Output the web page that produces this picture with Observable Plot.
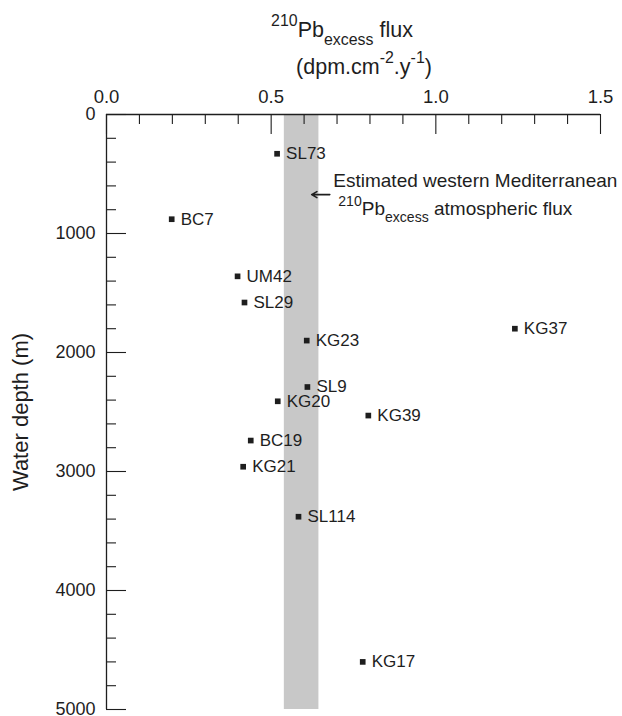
<!DOCTYPE html>
<html><head><meta charset="utf-8">
<script src="https://cdn.jsdelivr.net/npm/d3@7"></script>
<script src="https://cdn.jsdelivr.net/npm/@observablehq/plot@0.6"></script>
<style>
body{margin:0;background:#fff;}
#chart svg{display:block;font-family:"Liberation Sans",Arial,Helvetica,sans-serif;}
</style>
</head><body><div id="chart"></div>
<script>
// ---- data ----
const stations = ["SL73","BC7","UM42","SL29","KG23","KG37","SL9","KG20","KG39","BC19","KG21","SL114","KG17"];
const flux     = [0.518, 0.198, 0.398, 0.419, 0.608, 1.240, 0.610, 0.520, 0.795, 0.438, 0.415, 0.583, 0.778];
const depth    = [330, 880, 1360, 1580, 1900, 1800, 2290, 2410, 2530, 2740, 2960, 3380, 4600];

const xMajorTicks = [0, 0.5, 1.0, 1.5];
const xMinorTicks = [0.1,0.2,0.3,0.4,0.6,0.7,0.8,0.9,1.1,1.2,1.3,1.4];
const yMajorTicks = [0, 1000, 2000, 3000, 4000, 5000];
const yMinorTicks = [200,400,600,800,1200,1400,1600,1800,2200,2400,2600,2800,3200,3400,3600,3800,4200,4400,4600,4800];

const atmosphericFluxRange = [0.54, 0.645];   // shaded band (dpm.cm-2.y-1)
const annotationArrowFlux = [0.678, 0.623];   // arrow from -> to
const annotationDepth = 673;
const annotationLine1 = "Estimated western Mediterranean";
const annotationLine2 = [["210", "sup"], ["Pb"], ["excess", "sub"], [" atmospheric flux"]];

// ---- layout ----
const W = 622, H = 716, mt = 114, mb = 7, ml = 106, mr = 22;
const plotH = H - mt - mb, plotW = W - ml - mr;
const ink = "#1e1e1e";
const FONT = '"Liberation Sans", Arial, Helvetica, sans-serif';

const points = stations.map((s, i) => ({station: s, flux: flux[i], depth: depth[i]}));
const band = [{x1: atmosphericFluxRange[0], x2: atmosphericFluxRange[1], y1: yMajorTicks[0], y2: yMajorTicks[yMajorTicks.length - 1]}];
const arrow = [{x1: annotationArrowFlux[0], x2: annotationArrowFlux[1], y: annotationDepth}];

const plot = Plot.plot({
  width: W, height: H,
  marginTop: mt, marginBottom: mb, marginLeft: ml, marginRight: mr,
  style: {fontFamily: FONT, background: "#fff", color: ink, overflow: "visible"},
  x: {domain: [0, 1.5], axis: null},
  y: {domain: [0, 5000], reverse: true, axis: null},
  marks: [
    Plot.rect(band, {x1: "x1", x2: "x2", y1: "y1", y2: "y2", fill: "#c8c8c8"}),
    Plot.tickX(xMinorTicks, {x: d => d, insetBottom: plotH - 10, stroke: ink, strokeWidth: 1.1}),
    Plot.tickX(xMajorTicks, {x: d => d, insetBottom: plotH - 20, stroke: ink, strokeWidth: 1.1}),
    Plot.tickY(yMinorTicks, {y: d => d, insetRight: plotW - 10, stroke: ink, strokeWidth: 1.1}),
    Plot.tickY(yMajorTicks, {y: d => d, insetRight: plotW - 20, stroke: ink, strokeWidth: 1.1}),
    Plot.ruleY([0], {stroke: ink, strokeWidth: 1.3}),
    Plot.ruleX([0], {stroke: ink, strokeWidth: 1.3}),
    Plot.axisX(xMajorTicks, {anchor: "top", tickSize: 0, tickPadding: 12, tickFormat: d3.format(".1f"), fontSize: 18.5, label: null, fill: ink}),
    Plot.axisY(yMajorTicks, {anchor: "left", tickSize: 0, tickPadding: 11, tickFormat: d3.format("d"), fontSize: 18, label: null, fill: ink}),
    Plot.dot(points, {x: "flux", y: "depth", symbol: "square", r: 3.2, fill: ink, stroke: null}),
    Plot.text(points, {x: "flux", y: "depth", text: "station", dx: 9, textAnchor: "start", fontSize: 17, fill: ink}),
    Plot.arrow(arrow, {x1: "x1", x2: "x2", y1: "y", y2: "y", stroke: ink, strokeWidth: 1.6, headLength: 7})
  ]
});

document.getElementById("chart").appendChild(plot);
const svg = d3.select(plot);
const sx = plot.scale("x"), sy = plot.scale("y");

function rich(sel, parts, size) {
  let shift = 0;
  parts.forEach(([t, kind]) => {
    const target = kind === "sup" ? -size * 0.5 : kind === "sub" ? size * 0.36 : 0;
    sel.append("tspan").attr("dy", target - shift).attr("font-size", kind ? size * 0.74 : size).text(t);
    shift = target;
  });
}

// annotation (anchored through the plot's scales)
const ax = sx.apply(annotationArrowFlux[0]) + 4;
const ay = sy.apply(annotationDepth);
svg.append("text").attr("x", ax).attr("y", ay - 7).attr("text-anchor", "start")
  .attr("font-size", 19).attr("fill", ink).attr("font-family", FONT).text(annotationLine1);
const a2 = svg.append("text").attr("x", ax + 5).attr("y", ay + 21).attr("text-anchor", "start")
  .attr("font-size", 19).attr("fill", ink).attr("font-family", FONT);
rich(a2, annotationLine2, 19);

// top title
const t1 = svg.append("text").attr("x", 342).attr("y", 37).attr("text-anchor", "middle")
  .attr("font-size", 21.5).attr("fill", ink).attr("font-family", FONT);
rich(t1, [["210", "sup"], ["Pb"], ["excess", "sub"], [" flux"]], 21.5);
const t2 = svg.append("text").attr("x", 364).attr("y", 74).attr("text-anchor", "middle")
  .attr("font-size", 21.5).attr("fill", ink).attr("font-family", FONT);
rich(t2, [["(dpm.cm"], ["-2", "sup"], [".y"], ["-1", "sup"], [")"]], 21.5);

// left title
svg.append("text").attr("transform", "translate(22,412) rotate(-90)")
  .attr("text-anchor", "middle").attr("dominant-baseline", "middle")
  .attr("font-size", 22).attr("fill", ink).attr("font-family", FONT)
  .text("Water depth (m)");
</script>
</body></html>
